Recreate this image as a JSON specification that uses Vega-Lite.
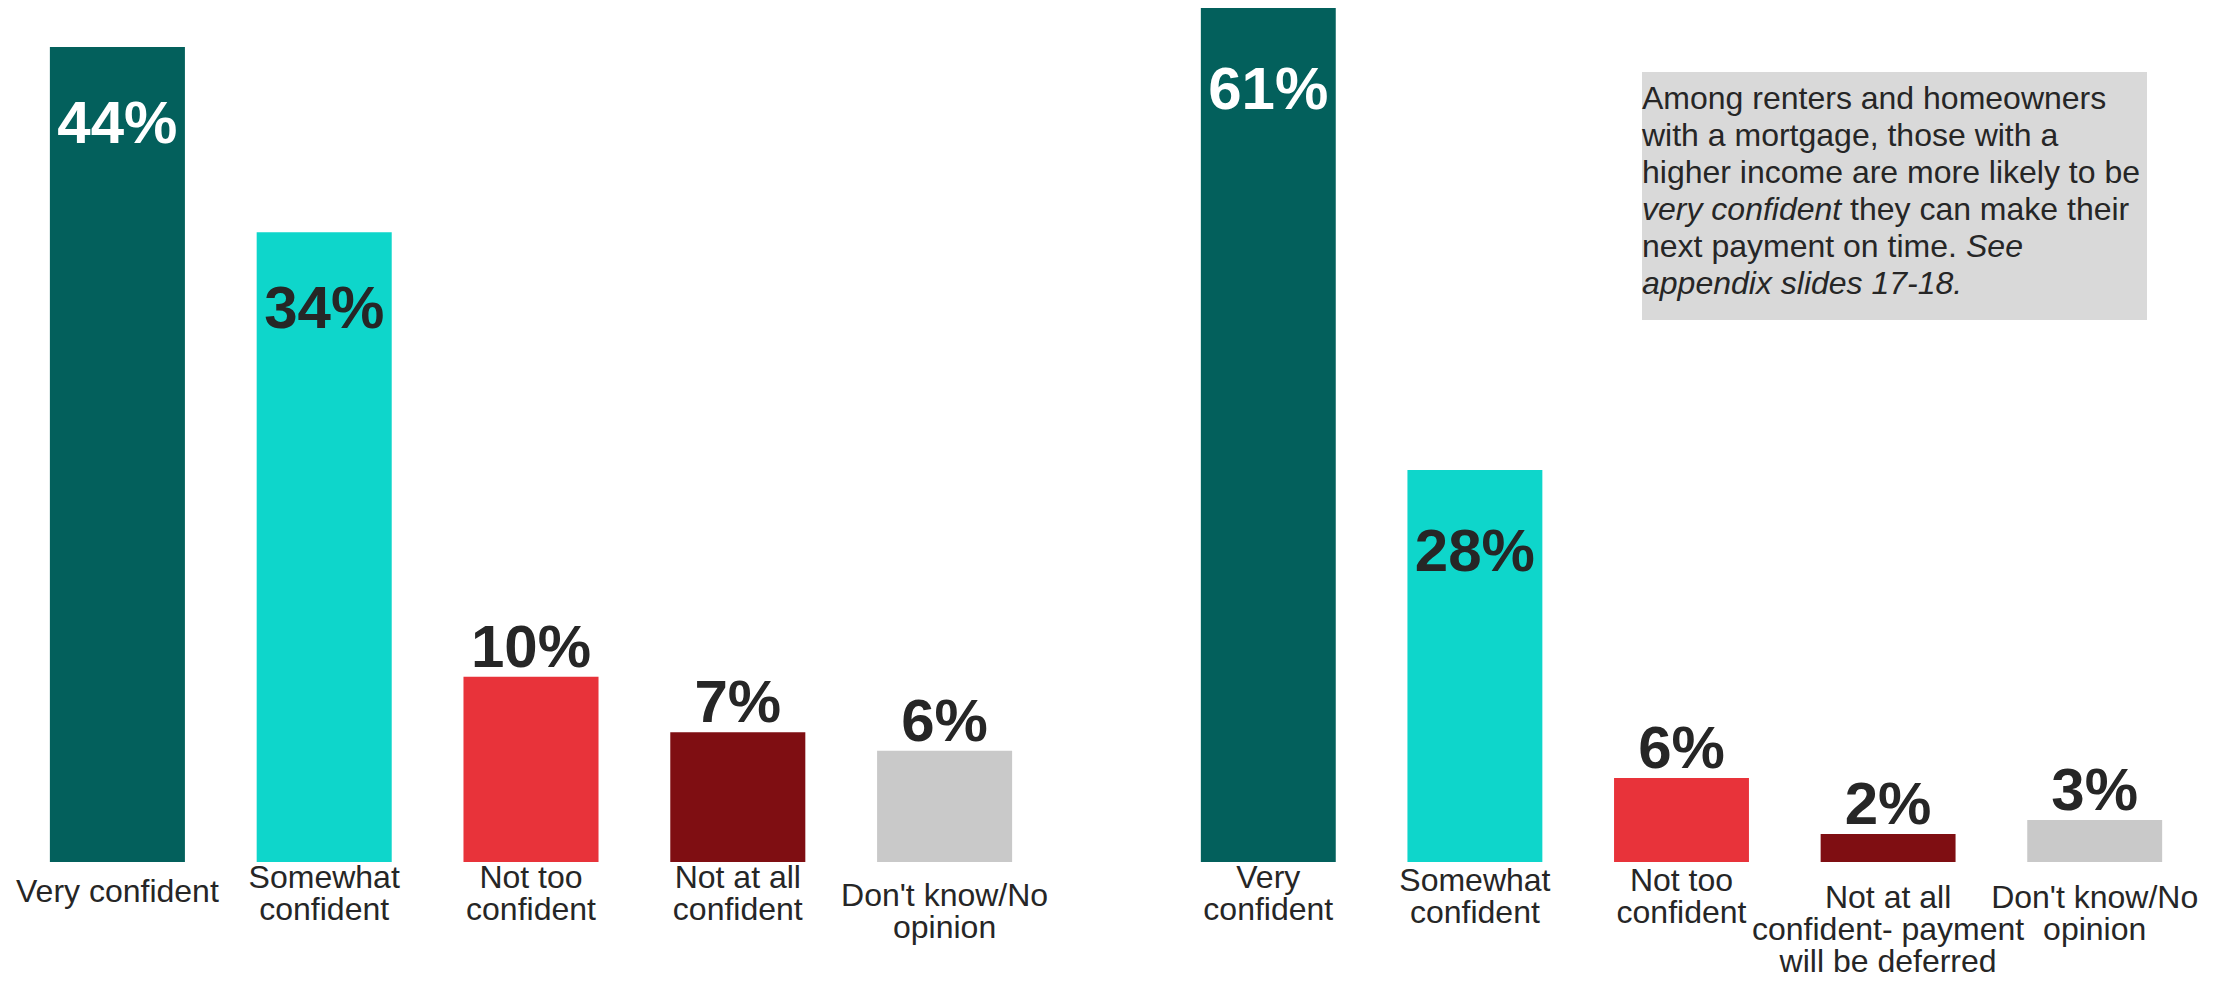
{
  "$schema": "https://vega.github.io/schema/vega-lite/v6.json",
  "background": "white",
  "padding": {"left": 14, "top": 8, "right": 0, "bottom": 0},
  "spacing": 117,
  "config": {
    "view": {"stroke": null},
    "font": "Liberation Sans",
    "axis": {
      "domain": false, "ticks": false, "grid": false,
      "labelFont": "Liberation Sans", "labelFontSize": 32, "labelColor": "#262626",
      "labelLineHeight": 32, "labelBaseline": "middle", "labelAngle": 0,
      "title": null, "labelLimit": 0, "labelOverlap": false
    }
  },
  "hconcat": [
    {
      "width": 1034,
      "height": 854,
      "data": {"values": [
        {"response": "Very confident", "share": 0.44},
        {"response": "Somewhat confident", "share": 0.34},
        {"response": "Not too confident", "share": 0.10},
        {"response": "Not at all confident", "share": 0.07},
        {"response": "Don't know/No opinion", "share": 0.06}
      ]},
      "encoding": {
        "x": {
          "field": "response", "type": "nominal", "sort": null,
          "scale": {"paddingInner": 0.347, "paddingOuter": 0.1735},
          "axis": {
            "labelExpr": "datum.label == 'Very confident' ? datum.label : split(replace(replace(datum.label, ' confident', '|confident'), 'No opinion', 'No|opinion'), '|')",
            "labelPadding": {"condition": [
              {"test": "indexof(datum.value, 'No opinion') >= 0", "value": 33},
              {"test": "datum.value == 'Very confident'", "value": 29}
            ], "value": 15}
          }
        },
        "y": {"field": "share", "type": "quantitative", "scale": {"domain": [0, 0.461]}, "axis": null}
      },
      "layer": [
        {
          "mark": {"type": "bar"},
          "encoding": {
            "color": {
              "field": "response", "type": "nominal", "legend": null,
              "scale": {
                "domain": ["Very confident", "Somewhat confident", "Not too confident", "Not at all confident", "Not at all confident- payment will be deferred", "Don't know/No opinion"],
                "range": ["#03605C", "#0ED6CB", "#E8333A", "#7F0E12", "#7F0E12", "#C9C9C9"]
              }
            }
          }
        },
        {
          "transform": [{"filter": "datum.share >= 0.2"}],
          "mark": {"type": "text", "fontSize": 60, "fontWeight": "bold", "baseline": "middle", "dy": 78},
          "encoding": {
            "text": {"field": "share", "type": "quantitative", "format": ".0%"},
            "color": {"condition": {"test": "datum.response == 'Very confident'", "value": "#FFFFFF"}, "value": "#262626"}
          }
        },
        {
          "transform": [{"filter": "datum.share < 0.2"}],
          "mark": {"type": "text", "fontSize": 60, "fontWeight": "bold", "baseline": "middle", "dy": -28, "color": "#262626"},
          "encoding": {
            "text": {"field": "share", "type": "quantitative", "format": ".0%"}
          }
        }
      ]
    },
    {
      "width": 1033,
      "height": 854,
      "data": {"values": [
        {"response": "Very confident", "share": 0.61},
        {"response": "Somewhat confident", "share": 0.28},
        {"response": "Not too confident", "share": 0.06},
        {"response": "Not at all confident- payment will be deferred", "share": 0.02},
        {"response": "Don't know/No opinion", "share": 0.03}
      ]},
      "encoding": {
        "x": {
          "field": "response", "type": "nominal", "sort": null,
          "scale": {"paddingInner": 0.347, "paddingOuter": 0.1735},
          "axis": {
            "labelExpr": "split(replace(replace(replace(datum.label, ' confident', '|confident'), ' will', '|will'), 'No opinion', 'No|opinion'), '|')",
            "labelPadding": {"condition": [
              {"test": "indexof(datum.value, 'No opinion') >= 0", "value": 35},
              {"test": "indexof(datum.value, 'deferred') >= 0", "value": 35},
              {"test": "datum.value == 'Very confident'", "value": 15}
            ], "value": 18}
          }
        },
        "y": {"field": "share", "type": "quantitative", "scale": {"domain": [0, 0.61]}, "axis": null}
      },
      "layer": [
        {
          "mark": {"type": "bar"},
          "encoding": {
            "color": {
              "field": "response", "type": "nominal", "legend": null,
              "scale": {
                "domain": ["Very confident", "Somewhat confident", "Not too confident", "Not at all confident", "Not at all confident- payment will be deferred", "Don't know/No opinion"],
                "range": ["#03605C", "#0ED6CB", "#E8333A", "#7F0E12", "#7F0E12", "#C9C9C9"]
              }
            }
          }
        },
        {
          "transform": [{"filter": "datum.share >= 0.2"}],
          "mark": {"type": "text", "fontSize": 60, "fontWeight": "bold", "baseline": "middle", "dy": 83},
          "encoding": {
            "text": {"field": "share", "type": "quantitative", "format": ".0%"},
            "color": {"condition": {"test": "datum.response == 'Very confident'", "value": "#FFFFFF"}, "value": "#262626"}
          }
        },
        {
          "transform": [{"filter": "datum.share < 0.2"}],
          "mark": {"type": "text", "fontSize": 60, "fontWeight": "bold", "baseline": "middle", "dy": -28, "color": "#262626"},
          "encoding": {
            "text": {"field": "share", "type": "quantitative", "format": ".0%"}
          }
        },
        {
          "data": {"values": [{}]},
          "layer": [
            {
              "mark": {"type": "rect", "color": "#D9D9D9"},
              "encoding": {"x": {"value": 477}, "x2": {"value": 982}, "y": {"value": 64}, "y2": {"value": 312}}
            },
            {
              "mark": {"type": "text", "text": "Among renters and homeowners", "align": "left", "baseline": "middle", "fontSize": 32, "color": "#262626"},
              "encoding": {"x": {"value": 477}, "y": {"value": 91}}
            },
            {
              "mark": {"type": "text", "text": "with a mortgage, those with a", "align": "left", "baseline": "middle", "fontSize": 32, "color": "#262626"},
              "encoding": {"x": {"value": 477}, "y": {"value": 128}}
            },
            {
              "mark": {"type": "text", "text": "higher income are more likely to be", "align": "left", "baseline": "middle", "fontSize": 32, "color": "#262626"},
              "encoding": {"x": {"value": 477}, "y": {"value": 165}}
            },
            {
              "mark": {"type": "text", "text": "very confident", "align": "left", "baseline": "middle", "fontSize": 32, "fontStyle": "italic", "color": "#262626"},
              "encoding": {"x": {"value": 477}, "y": {"value": 202}}
            },
            {
              "mark": {"type": "text", "text": "they can make their", "align": "left", "baseline": "middle", "fontSize": 32, "color": "#262626"},
              "encoding": {"x": {"value": 685}, "y": {"value": 202}}
            },
            {
              "mark": {"type": "text", "text": "next payment on time.", "align": "left", "baseline": "middle", "fontSize": 32, "color": "#262626"},
              "encoding": {"x": {"value": 477}, "y": {"value": 239}}
            },
            {
              "mark": {"type": "text", "text": "See", "align": "left", "baseline": "middle", "fontSize": 32, "fontStyle": "italic", "color": "#262626"},
              "encoding": {"x": {"value": 801}, "y": {"value": 239}}
            },
            {
              "mark": {"type": "text", "text": "appendix slides 17-18.", "align": "left", "baseline": "middle", "fontSize": 32, "fontStyle": "italic", "color": "#262626"},
              "encoding": {"x": {"value": 477}, "y": {"value": 276}}
            }
          ]
        }
      ]
    }
  ]
}
